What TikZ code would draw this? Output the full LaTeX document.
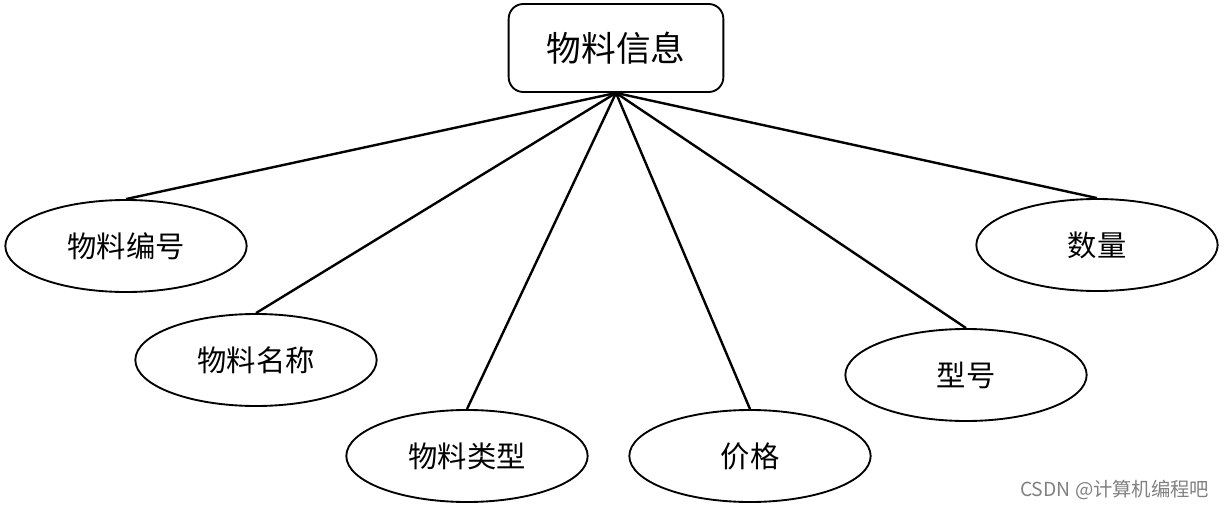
\documentclass[tikz,border=0pt]{standalone}
\usepackage{fontspec}
\newfontfamily\cjk{Noto Sans CJK SC}
\usetikzlibrary{shapes.geometric, positioning}

\begin{document}
\begin{tikzpicture}[
    x=0.75pt, y=-0.75pt, % one unit = one pixel of the reference
    entity/.style={draw, line width=1.4pt, rounded corners=11pt, minimum width=161pt, minimum height=66pt, font=\cjk\fontsize{26}{30}\selectfont}, % Style for the entity box
    attr/.style={draw, ellipse, line width=1.4pt, minimum width=181pt, minimum height=69pt, inner sep=0pt, font=\cjk\fontsize{22}{26}\selectfont}, % Style for the attributes
    link/.style={line width=1.8pt} % Style for the connectors
]

    % Page size
    \useasboundingbox (0, 0) rectangle (1228, 510);

    % Entity
    \node[entity] (info) at (616, 48) {物料信息};

    % Attributes
    \node[attr] (bianhao) at (126, 246) {物料编号};
    \node[attr] (mingcheng) at (256, 360) {物料名称};
    \node[attr] (leixing) at (467, 456) {物料类型};
    \node[attr] (jiage) at (750, 456) {价格};
    \node[attr] (xinghao) at (966, 375) {型号};
    \node[attr] (shuliang) at (1097, 245) {数量};

    % Connectors from the entity to every attribute
    \foreach \a in {bianhao, mingcheng, leixing, jiage, xinghao, shuliang}
        \draw[link] (info.south) -- (\a.north);

    % Watermark
    \node[anchor=east, text=gray, font=\cjk\fontsize{14.5}{16}\selectfont] (mark) at (1214, 490) {CSDN @计算机编程吧};

\end{tikzpicture}
\end{document}
